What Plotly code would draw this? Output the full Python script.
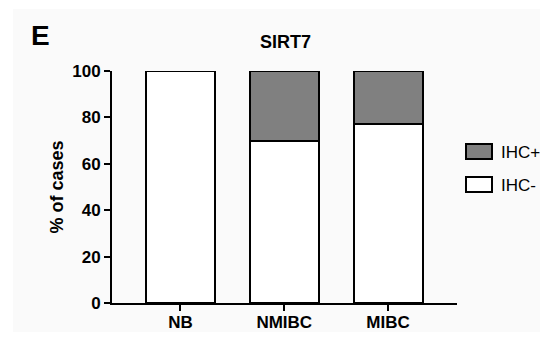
import plotly.graph_objects as go

categories = ["NB", "NMIBC", "MIBC"]
ihc_neg = [100, 70, 77]
ihc_pos = [0, 30, 23]
y_ticks = [0, 20, 40, 60, 80, 100]

OFF = 8  # page body margin
W, H = 548 - 2 * OFF, 340 - 2 * OFF
L, T = 112 - OFF, 71 - OFF
R = W - (457 - OFF)
B = H - (303 - OFF)
FONT = "Liberation Sans, Arial"

fig = go.Figure()
fig.add_trace(go.Bar(x=categories, y=ihc_neg, name="IHC-",
                     marker=dict(color="white", line=dict(color="black", width=2)),
                     width=0.665, cliponaxis=False, showlegend=False))
fig.add_trace(go.Bar(x=categories, y=ihc_pos, name="IHC+",
                     marker=dict(color="#808080", line=dict(color="black", width=2)),
                     width=0.665, cliponaxis=False, showlegend=False))

fig.update_layout(
    width=W, height=H, barmode="stack",
    margin=dict(l=L, r=R, t=T, b=B, autoexpand=False),
    paper_bgcolor="#fafafa", plot_bgcolor="rgba(0,0,0,0)",
    font=dict(family=FONT, color="black"),
    showlegend=False,
)
fig.update_xaxes(range=[-0.66, 2.665], showline=True, linecolor="black", linewidth=2,
                 ticks="outside", ticklen=6, tickwidth=2, tickcolor="black",
                 tickfont=dict(size=17, family=FONT, weight="bold"), ticklabelstandoff=-3,
                 showgrid=False, zeroline=False, fixedrange=True)
fig.update_yaxes(range=[0, 100], tickvals=y_ticks, showline=True, linecolor="black", linewidth=2,
                 ticks="outside", ticklen=6, tickwidth=2, tickcolor="black",
                 tickfont=dict(size=17, family=FONT, weight="bold"),
                 showgrid=False, zeroline=False, fixedrange=True,
                 title=dict(text="<b>% of cases</b>", font=dict(size=18), standoff=4))

# reference pixel -> plot-area paper coords
def ax(x):
    return (x - OFF - L) / (W - L - R)
def ay(y):
    return (H - B - (y - OFF)) / (H - T - B)

shapes = [
    dict(type="rect", xref="paper", yref="paper", x0=ax(0), x1=ax(13), y0=ay(340), y1=ay(0),
         fillcolor="white", line=dict(width=0), layer="below"),
    dict(type="rect", xref="paper", yref="paper", x0=ax(0), x1=ax(548), y0=ay(9), y1=ay(0),
         fillcolor="white", line=dict(width=0), layer="below"),
]
for (y0, y1, col) in [(144, 159, "#808080"), (177, 192, "white")]:
    shapes.append(dict(type="rect", xref="paper", yref="paper", x0=ax(466), x1=ax(492),
                       y0=ay(y1), y1=ay(y0), fillcolor=col, line=dict(color="black", width=2)))
fig.update_layout(shapes=shapes)

annotations = [
    dict(text="<b>E</b>", x=ax(29), y=ay(35), xanchor="left", yanchor="middle", font=dict(size=28)),
    dict(text="<b>SIRT7</b>", x=ax(285), y=ay(42), xanchor="center", yanchor="middle", font=dict(size=18)),
    dict(text="IHC+", x=ax(499), y=ay(152), xanchor="left", yanchor="middle", font=dict(size=17)),
    dict(text="IHC-", x=ax(499), y=ay(185), xanchor="left", yanchor="middle", font=dict(size=17)),
]
for a in annotations:
    a.update(xref="paper", yref="paper", showarrow=False)
fig.update_layout(annotations=annotations)

fig.write_html("out.html")
